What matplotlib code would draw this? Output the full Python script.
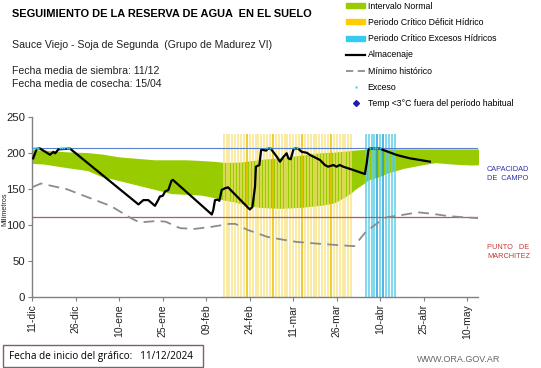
import numpy as np
import matplotlib
matplotlib.use('Agg')
import matplotlib.pyplot as plt
from matplotlib.patches import Patch, Rectangle
from matplotlib.lines import Line2D

plt.rcParams['font.family'] = ['Liberation Sans', 'DejaVu Sans']

# x tick labels, one every 15 days starting 11-dic
tick_days = [0, 15, 30, 45, 60, 75, 90, 105, 120, 135, 150]
tick_labels = ['11-dic', '26-dic', '10-ene', '25-ene', '09-feb', '24-feb',
               '11-mar', '26-mar', '10-abr', '25-abr', '10-may']

capacidad = 207
marchitez = 111

# intervalo normal (green band)
band_days = [0, 4, 12, 19, 24, 30, 36, 42, 48, 53, 58, 62, 66, 69, 72, 78, 80, 85,
             86, 93, 100, 104, 105, 108, 110, 111, 115, 116, 120, 122, 128, 134, 139,
             145, 151, 154]
band_upper = [205, 204.5, 202, 201, 199, 195, 193, 191, 191, 191, 190, 189, 187.5, 187.5,
              188, 191, 192, 193.5, 194, 197.6, 201, 201.5, 202, 203, 204, 204.5, 205.5, 205.5,
              206, 206, 206, 206, 206, 206, 206, 206]
band_lower = [186, 185, 180, 176, 167.5, 162, 156, 150, 144, 143, 142, 139, 135, 133,
              130, 125, 124.5, 123.6, 123.6, 125, 128, 131, 133, 140, 145, 149, 160, 163,
              168, 172, 179, 183.7, 187, 185, 183.7, 184]

# minimo historico
min_days = [0, 3, 12, 23, 27, 34, 37, 43, 46, 51, 56, 62, 68, 70, 74, 81, 85, 91, 100,
            111, 115, 119, 122, 127, 133, 138, 143, 149, 153.7]
min_vals = [153, 158, 150, 133, 127, 110, 104, 106, 105, 96, 95, 98, 102, 102, 94, 84,
            81, 77, 74, 71, 91, 103, 111, 114, 118, 116, 113, 111, 110]

# almacenaje
alm_days = [0.3, 1.5, 2.5, 6.1, 7.3, 7.9, 9, 13, 36.6, 38.3, 40, 42.3, 43.4, 44, 45,
            45.8, 46.9, 48, 48.5, 61.9, 62.4, 63, 64, 64.5, 65.3, 66.4, 67.5, 75, 75.9,
            76.8, 77.1, 78.3, 78.9, 79.7, 80.6, 81.4, 82.2, 84.3, 85.4, 86.6, 87.7, 88.3,
            89.1, 90, 90.6, 91.8, 92.9, 94.6, 95.8, 99.2, 100.9, 102, 103.8, 104.9, 106,
            107.2, 110.7, 114.7, 115.3, 115.9, 116.4, 119.9, 121, 125.7, 130.2, 137.1]
alm_vals = [193, 206, 207, 198, 202, 200, 205.5, 206.5, 129, 135, 135, 127, 135, 140, 141,
            147, 149, 162, 163, 115, 121, 135, 135.5, 134, 149, 151.4, 152.7, 122, 125.5,
            153.6, 181.4, 183.7, 204.6, 204.6, 203.7, 206.5, 206.5, 195.3, 188.4, 195, 200,
            193, 191.7, 204.6, 206.8, 206, 202, 200.8, 197.6, 190.7, 183.7, 181.4, 183.7,
            181.4, 183.7, 181.4, 176.8, 171.2, 186, 204.6, 206.6, 206.6, 204.6, 197.6, 193,
            188.4]

# exceso points
exc_days = [0.6, 1.1, 1.6, 2.1, 9.5, 10.3, 11.1, 11.9, 12.7, 81.0, 81.8, 90.4, 91.2,
            116.6, 117.4, 118.2, 119.0, 119.8]
exc_vals = [207] * len(exc_days)

# periodos criticos (vertical bars)
deficit_days = list(range(66, 111))
deficit_dark = [74, 83, 93, 103]
excess_days = list(range(115, 126))
excess_dark = [119, 121]
bar_top = 227

fig = plt.figure(figsize=(5.41, 3.68), dpi=100)
ax = fig.add_axes([0.0597, 0.1921, 0.8239, 0.4892])

ax.fill_between(band_days, band_lower, band_upper, color='#99CC00', lw=0, zorder=1)

for d in deficit_days:
    dark = d in deficit_dark
    ax.vlines(d, 0, bar_top, color='#EEC000' if dark else '#F7E07A',
              lw=1.2, alpha=0.95 if dark else 0.8, zorder=2)
for d in excess_days:
    c = '#1F9FD8' if d in excess_dark else '#5CCFEA'
    ax.vlines(d, 0, bar_top, color=c, lw=1.1, zorder=2)

ax.axhline(capacidad, color='#5B7FD0', lw=0.8, zorder=3)
ax.axhline(marchitez, color='#B55A5A', lw=0.9, zorder=3)

ax.plot(min_days, min_vals, color='#8C8C8C', lw=1.3, dashes=(6, 3.5), zorder=4)
ax.plot(alm_days, alm_vals, color='black', lw=1.6, zorder=5)
ax.plot(exc_days, exc_vals, ls='none', marker='s', ms=1.7, color='#33CCEE', mec='none',
        zorder=6)

ax.set_xlim(0, 153.7)
ax.set_ylim(0, 250)
ax.set_yticks([0, 50, 100, 150, 200, 250])
ax.set_xticks(tick_days)
ax.set_xticklabels(tick_labels, rotation=90)
ax.tick_params(axis='both', labelsize=7.5, length=3, width=0.8, color='#808080',
               labelcolor='#222222', pad=2)
ax.tick_params(axis='y', labelsize=8.2)
for s in ['top', 'right']:
    ax.spines[s].set_visible(False)
for s in ['left', 'bottom']:
    ax.spines[s].set_color('#808080')
    ax.spines[s].set_linewidth(1.0)
fig.text(4.5 / 541, 1 - 209 / 368, 'Milímetros', fontsize=5.2, rotation=90,
         va='center', ha='center', color='#222222')

# texts
fig.text(12 / 541, 1 - 14 / 368, 'SEGUIMIENTO DE LA RESERVA DE AGUA  EN EL SUELO',
         fontsize=7.9, fontweight='bold', va='center', ha='left')
fig.text(12 / 541, 1 - 45 / 368, 'Sauce Viejo - Soja de Segunda  (Grupo de Madurez VI)',
         fontsize=7.6, va='center', ha='left', color='#222222')
fig.text(12 / 541, 1 - 71 / 368, 'Fecha media de siembra: 11/12', fontsize=7.6,
         va='center', ha='left', color='#222222')
fig.text(12 / 541, 1 - 84 / 368, 'Fecha media de cosecha: 15/04', fontsize=7.6,
         va='center', ha='left', color='#222222')

fig.text(487 / 541, 1 - 174 / 368, 'CAPACIDAD\nDE  CAMPO', fontsize=5.3, color='#3333AA',
         va='center', ha='left', linespacing=1.25)
fig.text(487 / 541, 1 - 252 / 368, 'PUNTO   DE\nMARCHITEZ', fontsize=5.3, color='#C23B3B',
         va='center', ha='left', linespacing=1.25)

fig.text(500 / 541, 1 - 360 / 368, 'WWW.ORA.GOV.AR', fontsize=6.5, color='#666666',
         va='center', ha='right')

fig.patches.append(Rectangle((3 / 541, 1 - 367 / 368), 200 / 541, 22 / 368,
                             transform=fig.transFigure, fill=False, ec='#806060', lw=1.0))
fig.text(9 / 541, 1 - 356 / 368, 'Fecha de inicio del gráfico:   11/12/2024',
         fontsize=7.2, family=['Open Sans', 'DejaVu Sans'], va='center', ha='left')

handles = [
    Patch(color='#99CC00', label='Intervalo Normal'),
    Patch(color='#FFCC00', label='Periodo Crítico Déficit Hídrico'),
    Patch(color='#33CCEE', label='Periodo Crítico Excesos Hídricos'),
    Line2D([], [], color='black', lw=1.6, label='Almacenaje'),
    Line2D([], [], color='#8C8C8C', lw=1.3, dashes=(4, 2.5), label='Mínimo histórico'),
    Line2D([], [], ls='none', marker='s', ms=2.0, color='#33CCEE', mec='none', label='Exceso'),
    Line2D([], [], ls='none', marker='D', ms=3, color='#1F1FAA',
           label='Temp <3°C fuera del período habitual'),
]
fig.legend(handles=handles, loc='upper left', bbox_to_anchor=(345 / 541, 1 - 1 / 368),
           frameon=False, fontsize=6.3, handlelength=2.2, handleheight=0.5,
           handletextpad=0.3, labelspacing=0.82, borderaxespad=0, borderpad=0.1)

fig.savefig('out.png', dpi=100)
